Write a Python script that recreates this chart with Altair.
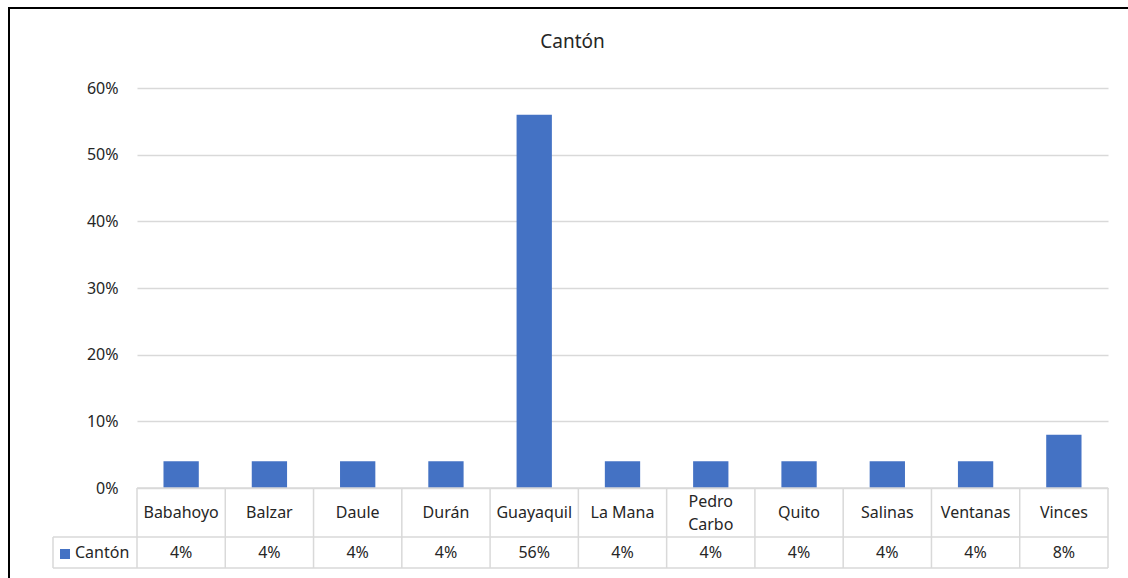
import altair as alt
import pandas as pd

# Share of respondents by canton
cantones = ["Babahoyo", "Balzar", "Daule", "Durán", "Guayaquil", "La Mana",
            "Pedro Carbo", "Quito", "Salinas", "Ventanas", "Vinces"]
etiquetas = ["Babahoyo", "Balzar", "Daule", "Durán", "Guayaquil", "La Mana",
             "Pedro\nCarbo", "Quito", "Salinas", "Ventanas", "Vinces"]
valores = [0.04, 0.04, 0.04, 0.04, 0.56, 0.04, 0.04, 0.04, 0.04, 0.04, 0.08]
serie = "Cantón"
ticks_y = [0, 0.1, 0.2, 0.3, 0.4, 0.5, 0.6]

W, H = 971, 400
FONT = "Noto Sans"
TXT = "#262626"
GRID = "#d9d9d9"
BLUE = "#4472C4"

df = pd.DataFrame({"canton": cantones, "etiqueta": etiquetas, "valor": valores})
uno = pd.DataFrame({"serie": [serie]})

xcat = alt.X("canton:N", sort=cantones,
             scale=alt.Scale(paddingInner=0, paddingOuter=0), axis=None)

base = alt.Chart(df)

bars = base.mark_bar(color=BLUE, width=alt.RelativeBandSize(0.4)).encode(
    x=xcat,
    y=alt.Y("valor:Q", scale=alt.Scale(domain=[0, 0.6]),
            axis=alt.Axis(format=".0%", values=ticks_y, grid=True,
                          gridColor=GRID, gridWidth=1.5, domain=False,
                          ticks=False, labelPadding=19, labelFontSize=16,
                          labelFont=FONT, labelColor=TXT, title=None)),
)

# data table under the bars: borders
col_lines = base.mark_rule(color=GRID, strokeWidth=1.5).encode(
    x=alt.X("canton:N", sort=cantones, bandPosition=1,
            scale=alt.Scale(paddingInner=0, paddingOuter=0), axis=None),
    y=alt.value(H), y2=alt.value(H + 80),
)
first_line = alt.Chart(uno).mark_rule(color=GRID, strokeWidth=1.5).encode(
    x=alt.value(0), y=alt.value(H), y2=alt.value(H + 80))
legend_left = alt.Chart(uno).mark_rule(color=GRID, strokeWidth=1.5).encode(
    x=alt.value(-84), y=alt.value(H + 49), y2=alt.value(H + 80))
top_line = alt.Chart(uno).mark_rule(color=GRID, strokeWidth=1.5).encode(
    x=alt.value(0), x2=alt.value(W), y=alt.value(H))
mid_line = alt.Chart(uno).mark_rule(color=GRID, strokeWidth=1.5).encode(
    x=alt.value(-84), x2=alt.value(W), y=alt.value(H + 49))
bot_line = alt.Chart(uno).mark_rule(color=GRID, strokeWidth=1.5).encode(
    x=alt.value(-84), x2=alt.value(W), y=alt.value(H + 80))

# data table: category names (one-line and wrapped) and values
text_style = dict(font=FONT, fontSize=16, color=TXT, baseline="middle")
names = base.mark_text(**text_style).encode(
    x=xcat, y=alt.value(H + 25), text="etiqueta:N"
).transform_filter("indexof(datum.etiqueta, '\\n') < 0")
names_wrapped = base.mark_text(lineBreak="\n", lineHeight=23, **text_style).encode(
    x=xcat, y=alt.value(H + 13.5), text="etiqueta:N"
).transform_filter("indexof(datum.etiqueta, '\\n') >= 0")
vals = base.mark_text(**text_style).encode(
    x=xcat, y=alt.value(H + 65), text=alt.Text("valor:Q", format=".0%"))

# legend key inside the table
swatch = alt.Chart(uno).mark_rect(color=BLUE).encode(
    x=alt.value(-77), x2=alt.value(-67), y=alt.value(H + 61), y2=alt.value(H + 71))
swatch_txt = alt.Chart(uno).mark_text(font=FONT, fontSize=16, color=TXT,
                                      align="left", baseline="middle").encode(
    x=alt.value(-62), y=alt.value(H + 65), text="serie:N")

# outer chart frame (left and top edges)
frame_left = alt.Chart(uno).mark_rule(color="black", strokeWidth=2).encode(
    x=alt.value(-128), y=alt.value(-80), y2=alt.value(H + 95))
frame_top = alt.Chart(uno).mark_rule(color="black", strokeWidth=2).encode(
    x=alt.value(-129), x2=alt.value(W + 25), y=alt.value(-80))

chart = alt.layer(
    bars, top_line, mid_line, bot_line, col_lines, first_line, legend_left,
    names, names_wrapped, vals, swatch, swatch_txt, frame_left, frame_top,
).properties(
    width=W, height=H,
    title=alt.TitleParams("Cantón", font=FONT, fontSize=19, color=TXT,
                          fontWeight="normal", anchor="middle", dx=-50,
                          baseline="bottom", offset=-64),
    autosize=alt.AutoSizeParams(type="none"),
    padding={"left": 137, "top": 88, "right": 20, "bottom": 90},
    background="white",
).configure_view(strokeWidth=0)

chart.save("out.html", embed_options={"renderer": "svg", "actions": False})
